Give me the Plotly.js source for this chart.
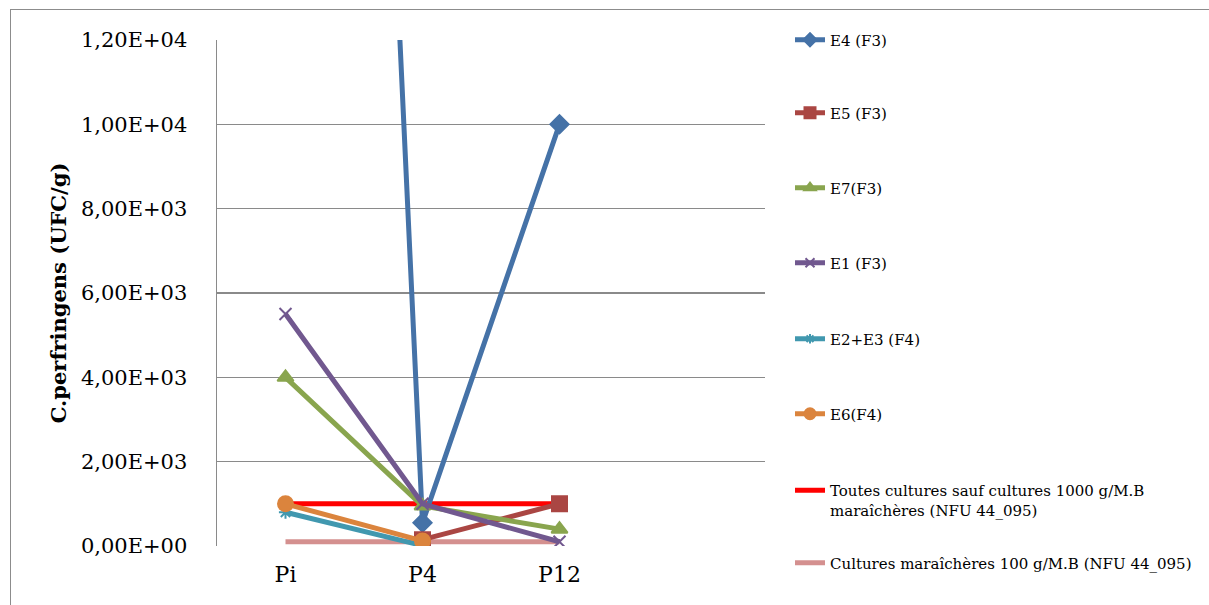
<!DOCTYPE html>
<html>
<head>
<meta charset="utf-8">
<script src="https://cdn.plot.ly/plotly-3.0.1.min.js"></script>
<style>
html,body{margin:0;padding:0;background:#fff;}
#wrap{position:relative;width:1209px;height:605px;}
#chart{position:absolute;left:0;top:0;width:1209px;height:605px;}
#frame{position:absolute;left:10px;top:9px;width:1220px;height:620px;border-left:1.5px solid #8c8c8c;border-top:1.5px solid #8c8c8c;pointer-events:none;}
</style>
</head>
<body>
<div id="wrap"><div id="chart"></div><div id="frame"></div></div>
<script>
const categories = ["Pi", "P4", "P12"];
const seriesNames = ["E4 (F3)", "E5 (F3)", "E7(F3)", "E1 (F3)", "E2+E3 (F4)", "E6(F4)",
  "Toutes cultures sauf cultures 1000 g/M.B<br>maraîchères (NFU 44_095)",
  "Cultures maraîchères 100 g/M.B (NFU 44_095)"];
const E4 = [70000, 550, 10000];
const E5 = [null, 150, 1000];
const E7 = [4000, 950, 400];
const E1 = [5500, 1000, 100];
const E2E3 = [800, 10, null];
const E6 = [1000, 120, null];
const seuilToutes = [1000, 1000, 1000];
const seuilMaraicheres = [100, 100, 100];
const yTickVals = [0, 2000, 4000, 6000, 8000, 10000, 12000];
const yTickText = ["0,00E+00", "2,00E+03", "4,00E+03", "6,00E+03", "8,00E+03", "1,00E+04", "1,20E+04"];

const FONT = "DejaVu Serif, Liberation Serif, serif";
const series = [
  {y: E4, color: "#4572A7", symbol: "diamond", size: 14, lsize: 10},
  {y: E5, color: "#AA4643", symbol: "square", size: 15, lsize: 11},
  {y: E7, color: "#89A54E", symbol: "triangle-up", size: 14, lsize: 10},
  {y: E1, color: "#71588F", symbol: "x-thin-open", size: 12, lsize: 9},
  {y: E2E3, color: "#4198AF", symbol: "asterisk-open", size: 11, lsize: 8},
  {y: E6, color: "#DB843D", symbol: "circle", size: 15, lsize: 11},
  {y: seuilToutes, color: "#FF0000", symbol: null},
  {y: seuilMaraicheres, color: "#D4908F", symbol: null}
];
const legendY = [40, 113, 188, 263, 339, 414, 488, 563];

const dataTraces = [];
const legendTraces = [];
series.forEach((s, i) => {
  const t = {
    type: "scatter", x: categories, y: s.y, name: seriesNames[i],
    mode: s.symbol ? "lines+markers" : "lines",
    line: {color: s.color, width: 5},
    showlegend: false, connectgaps: false
  };
  const l = {
    type: "scatter", x: [categories[0]], y: [null], name: seriesNames[i],
    mode: s.symbol ? "lines+markers" : "lines",
    line: {color: s.color, width: 5},
    legend: i === 0 ? "legend" : "legend" + (i + 1),
    showlegend: true
  };
  if (s.symbol) {
    t.marker = {symbol: s.symbol, size: s.size, color: s.color, line: {color: s.color, width: 2}};
    l.marker = {symbol: s.symbol, size: s.lsize, color: s.color, line: {color: s.color, width: 2}};
  }
  dataTraces.push(t);
  legendTraces.push(l);
});
const order = [7, 6, 0, 1, 2, 3, 4, 5];
const plotTraces = order.map(i => dataTraces[i]).concat(legendTraces);

const plotTop = 40, plotBottom = 546;
const layout = {
  width: 1209, height: 605,
  margin: {l: 217, r: 444, t: 40, b: 59},
  paper_bgcolor: "#fff", plot_bgcolor: "#fff",
  font: {family: FONT, color: "#000"},
  xaxis: {
    type: "category", range: [-0.5, 3.5],
    showgrid: false, zeroline: false, showline: false,
    ticks: "", ticklabelstandoff: 13,
    tickfont: {family: FONT, size: 22}
  },
  yaxis: {
    range: [0, 12000], tickvals: yTickVals, ticktext: yTickText,
    showgrid: true, gridcolor: "#8a8a8a", gridwidth: 1.5,
    zeroline: false, showline: true, linecolor: "#8a8a8a", linewidth: 1.5,
    ticks: "", ticklabelstandoff: 24,
    tickfont: {family: FONT, size: 21},
    title: {text: "<b>C.perfringens (UFC/g)</b>", font: {family: FONT, size: 21}, standoff: 8}
  },
  showlegend: true
};
for (let i = 0; i < 8; i++) {
  const key = i === 0 ? "legend" : "legend" + (i + 1);
  const multi = i === 6;
  layout[key] = {
    x: (790 - 217) / 548, xanchor: "left",
    y: multi ? (plotBottom - (legendY[i] - 14)) / (plotBottom - plotTop) : (plotBottom - legendY[i]) / (plotBottom - plotTop),
    yanchor: multi ? "top" : "middle",
    valign: "top",
    bgcolor: "rgba(0,0,0,0)",
    font: {family: FONT, size: 15, color: "#000"},
    itemwidth: 30
  };
}
Plotly.newPlot("chart", plotTraces, layout, {displayModeBar: false, staticPlot: true});
</script>
</body>
</html>
